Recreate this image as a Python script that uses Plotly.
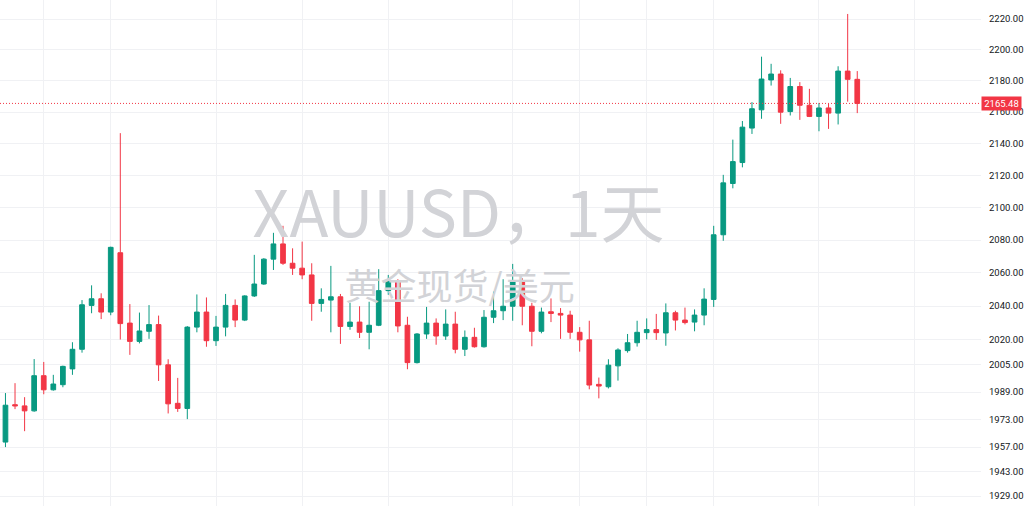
import math
import plotly.graph_objects as go

# ---- data (XAUUSD daily) ----
opens = [1959.9, 1981.6, 1980.9, 1978.0, 1998.6, 1990.3, 1993.3, 2002.6, 2014.2, 2040.4,
         2044.4, 2036.4, 2072.3, 2029.8, 2018.9, 2024.9, 2028.9, 2005.0, 1982.4, 1979.4,
         2027.4, 2036.4, 2019.3, 2027.4, 2040.4, 2031.6, 2046.1, 2053.3, 2068.4, 2077.7,
         2065.9, 2062.9, 2058.8, 2041.6, 2043.6, 2045.6, 2027.8, 2030.4, 2024.3, 2028.5,
         2049.3, 2054.9, 2028.5, 2006.3, 2023.3, 2029.8, 2022.1, 2029.2, 2014.2, 2021.3,
         2015.7, 2033.3, 2037.2, 2039.9, 2054.9, 2039.9, 2024.9, 2036.6, 2035.6, 2034.6,
         2024.3, 2019.8, 1993.5, 1992.1, 2004.4, 2013.4, 2018.1, 2024.1, 2025.9, 2023.9,
         2036.0, 2031.6, 2030.4, 2034.6, 2044.0, 2083.3, 2115.0, 2128.1, 2149.8, 2161.4,
         2180.5, 2184.3, 2160.3, 2176.3, 2164.3, 2157.2, 2162.6, 2159.3, 2186.2, 2180.9]
highs = [1988.4, 1994.2, 1986.0, 2008.4, 2006.7, 1999.1, 2004.5, 2018.4, 2043.6, 2052.5,
         2047.7, 2076.0, 2146.6, 2041.2, 2036.1, 2040.6, 2034.3, 2008.3, 1997.3, 2028.0,
         2047.0, 2045.2, 2034.1, 2047.3, 2044.0, 2046.5, 2071.0, 2069.0, 2084.5, 2088.8,
         2075.0, 2079.1, 2065.9, 2050.7, 2064.3, 2047.3, 2042.0, 2039.9, 2042.6, 2062.3,
         2058.8, 2056.2, 2033.6, 2023.8, 2039.5, 2032.6, 2038.0, 2036.6, 2025.4, 2027.0,
         2037.6, 2048.7, 2056.2, 2065.5, 2056.8, 2042.0, 2039.1, 2044.6, 2038.8, 2037.2,
         2027.4, 2031.2, 1997.5, 2008.3, 2014.8, 2023.3, 2031.2, 2032.6, 2035.3, 2041.6,
         2037.2, 2039.1, 2038.0, 2050.7, 2088.8, 2120.4, 2142.5, 2154.3, 2166.3, 2195.5,
         2190.9, 2186.7, 2181.8, 2179.1, 2174.8, 2165.7, 2165.3, 2189.3, 2223.3, 2186.2]
lows = [1957.0, 1979.0, 1966.2, 1977.5, 1987.7, 1989.8, 1991.8, 1999.1, 2012.2, 2035.7,
        2032.2, 2034.5, 2020.0, 2010.9, 2017.7, 2020.4, 1995.5, 1976.5, 1977.4, 1973.2,
        2024.3, 2015.7, 2016.2, 2021.9, 2027.4, 2031.0, 2045.5, 2052.8, 2061.8, 2064.9,
        2058.8, 2056.2, 2031.2, 2036.6, 2024.3, 2017.4, 2025.8, 2020.9, 2014.2, 2028.0,
        2046.8, 2024.3, 2002.4, 2005.8, 2020.4, 2016.9, 2019.8, 2011.8, 2010.2, 2015.2,
        2015.2, 2029.8, 2031.6, 2031.2, 2028.5, 2016.0, 2023.7, 2030.4, 2020.4, 2020.4,
        2012.8, 1990.6, 1985.3, 1991.1, 1995.7, 2012.2, 2015.8, 2020.1, 2019.8, 2016.3,
        2025.4, 2029.0, 2024.9, 2028.5, 2039.5, 2079.6, 2112.0, 2125.1, 2146.1, 2155.7,
        2176.9, 2152.5, 2157.8, 2155.0, 2156.8, 2147.8, 2149.3, 2152.1, 2166.6, 2159.3]
closes = [1981.3, 1980.9, 1978.0, 1998.6, 1990.3, 1993.7, 2004.1, 2014.2, 2040.8, 2044.4,
          2036.4, 2075.6, 2029.5, 2018.9, 2025.1, 2028.9, 2005.0, 1982.1, 1979.4, 2027.4,
          2036.4, 2019.3, 2027.4, 2040.4, 2031.6, 2046.1, 2053.3, 2068.4, 2077.7, 2065.9,
          2062.9, 2058.8, 2041.6, 2044.0, 2045.6, 2027.8, 2030.4, 2024.3, 2028.5, 2049.3,
          2054.9, 2028.1, 2006.3, 2023.3, 2029.8, 2022.1, 2029.2, 2014.2, 2021.3, 2015.7,
          2033.3, 2037.2, 2039.9, 2054.9, 2039.9, 2024.9, 2036.4, 2035.6, 2034.6, 2024.3,
          2019.8, 1993.1, 1992.5, 2004.8, 2013.8, 2018.1, 2024.3, 2025.9, 2024.1, 2036.0,
          2031.6, 2030.1, 2034.6, 2044.2, 2083.3, 2115.4, 2128.7, 2150.4, 2162.1, 2181.1,
          2184.3, 2159.9, 2176.3, 2164.3, 2157.2, 2162.6, 2159.3, 2186.2, 2180.9, 2165.48]

price_ticks = [1929, 1943, 1957, 1973, 1989, 2005, 2020, 2040, 2060, 2080,
               2100, 2120, 2140, 2160, 2180, 2200, 2220]
tick_labels = [f"{v:.2f}" for v in price_ticks]
time_grid_idx = [4, 11, 22, 31, 40, 53, 60, 67, 74, 85, 95]
title_text = "XAUUSD，1天"
subtitle_text = "黄金现货/美元"

# ---- styling ----
UP = "#089981"
DOWN = "#F23645"
GRID = "#f0f1f4"
X_RANGE = [-0.57, 101.93]
Y_RANGE = [math.log10(1923.34), math.log10(2232.46)]

x = list(range(len(closes)))

fig = go.Figure()

# watermark (drawn first so candles sit above it)
fig.add_trace(go.Scatter(
    x=[47.34], y=[2091.6], mode="text",
    text=[title_text],
    textposition="middle center",
    textfont=dict(family="Noto Sans CJK SC", size=64, color="#d2d3d7"),
    hoverinfo="skip", showlegend=False, cliponaxis=False))
fig.add_trace(go.Scatter(
    x=[47.45], y=[2049.2], mode="text",
    text=[subtitle_text],
    textposition="middle center",
    textfont=dict(family="Noto Sans CJK SC", size=36, color="#d2d3d7"),
    hoverinfo="skip", showlegend=False, cliponaxis=False))

fig.add_trace(go.Candlestick(
    x=x, open=opens, high=highs, low=lows, close=closes,
    increasing=dict(line=dict(color=UP, width=1), fillcolor=UP),
    decreasing=dict(line=dict(color=DOWN, width=1), fillcolor=DOWN),
    whiskerwidth=0, showlegend=False, hoverinfo="skip"))

# last price dotted line
fig.add_trace(go.Scatter(
    x=X_RANGE, y=[closes[-1], closes[-1]], mode="lines",
    line=dict(color=DOWN, width=1, dash="1px,2px"),
    hoverinfo="skip", showlegend=False))

fig.add_annotation(
    xref="paper", x=1, xanchor="left", xshift=0,
    yref="y", y=math.log10(closes[-1]), yanchor="middle",
    text=f"{closes[-1]:.2f}", showarrow=False,
    font=dict(family="Roboto", size=9.5, color="white"),
    bgcolor=DOWN, borderpad=1, width=37, height=11, align="center")

fig.update_layout(
    width=1024, height=506,
    margin=dict(l=0, r=39, t=0, b=0),
    paper_bgcolor="white", plot_bgcolor="white",
    showlegend=False,
    xaxis=dict(range=X_RANGE, tickmode="array", tickvals=time_grid_idx,
               showticklabels=False, showgrid=True, gridcolor=GRID, gridwidth=1,
               zeroline=False, showline=False, ticks="",
               rangeslider=dict(visible=False), fixedrange=True),
    yaxis=dict(type="log", side="right", range=Y_RANGE,
               tickmode="array", tickvals=price_ticks, ticktext=tick_labels,
               showgrid=True, gridcolor=GRID, gridwidth=1, ticks="",
               tickfont=dict(family="Roboto", size=9.5, color="#131722"),
               ticklabelstandoff=7, zeroline=False, showline=False, fixedrange=True),
)

fig.write_html(
    "out.html",
    config={"displayModeBar": False},
    post_script="document.body.style.margin='0';document.body.style.overflow='hidden';",
)
